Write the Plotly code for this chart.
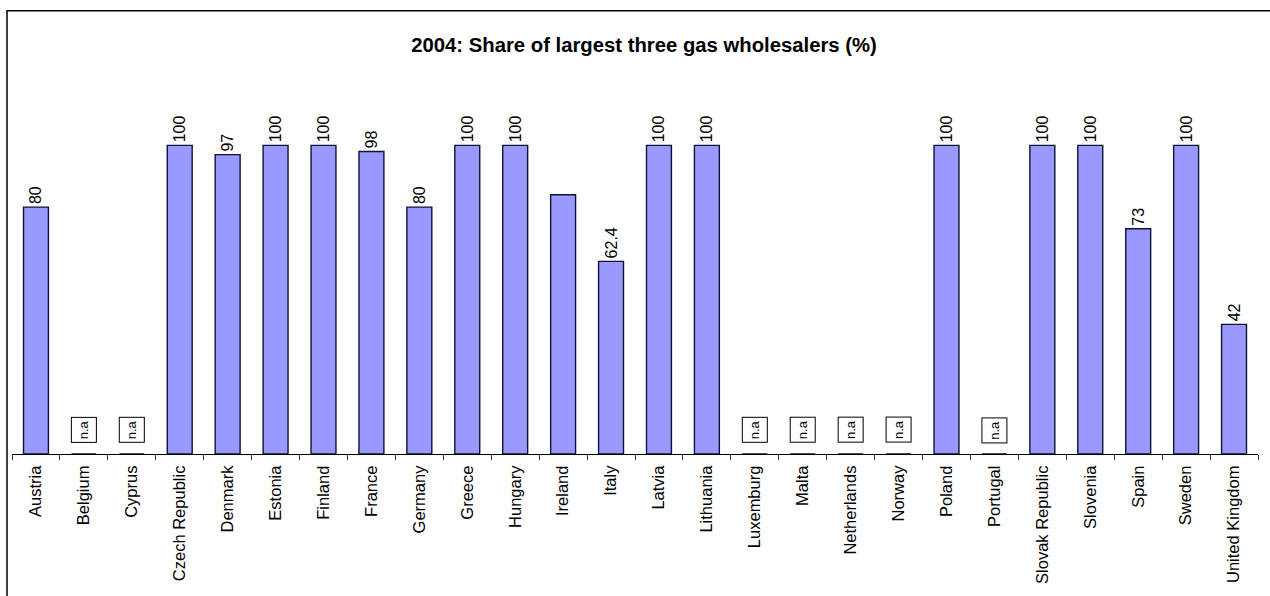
import plotly.graph_objects as go

countries = ["Austria", "Belgium", "Cyprus", "Czech Republic", "Denmark", "Estonia", "Finland",
             "France", "Germany", "Greece", "Hungary", "Ireland", "Italy", "Latvia", "Lithuania",
             "Luxemburg", "Malta", "Netherlands", "Norway", "Poland", "Portugal", "Slovak Republic",
             "Slovenia", "Spain", "Sweden", "United Kingdom"]
values = [80, None, None, 100, 97, 100, 100, 98, 80, 100, 100, 84, 62.4, 100, 100,
          None, None, None, None, 100, None, 100, 100, 73, 100, 42]
labels = ["80", "", "", "100", "97", "100", "100", "98", "80", "100", "100", "", "62.4", "100", "100",
          "", "", "", "", "100", "", "100", "100", "73", "100", "42"]

W, H = 1270, 596
left_px, right_px = 12, 1258
top_px, base_px = 60, 457
px100 = 146
yr = (base_px - top_px) / ((base_px - px100) / 100.0)

FONT = "Liberation Sans, Arial"

fig = go.Figure()
fig.add_trace(go.Bar(
    x=countries, y=[v if v is not None else 0 for v in values],
    text=labels, textposition="outside", textangle=-90,
    textfont=dict(family=FONT, size=16, color="black"),
    constraintext="none", cliponaxis=False,
    marker=dict(color="#9999FF", line=dict(color="#111133", width=1.4)),
    width=0.52,
))

for c, v in zip(countries, values):
    if v is None:
        fig.add_annotation(x=c, y=0, xref="x", yref="y", text="n.a", textangle=-90,
                           showarrow=False, yanchor="middle", yshift=24,
                           font=dict(family=FONT, size=13, color="black"),
                           bordercolor="black", borderwidth=1, bgcolor="white",
                           width=22, height=22, borderpad=1)

pw = right_px - left_px
ph = base_px - top_px
fig.add_shape(type="rect", xref="paper", yref="paper",
              x0=(7 - left_px) / pw, x1=(1290 - left_px) / pw,
              y0=(base_px - 620) / ph, y1=(base_px - 10.5) / ph,
              line=dict(color="black", width=1.5), fillcolor="rgba(0,0,0,0)", layer="below")

fig.update_layout(
    width=W, height=H,
    margin=dict(l=left_px, r=W - right_px, t=top_px, b=H - base_px, pad=0),
    plot_bgcolor="white", paper_bgcolor="white",
    showlegend=False,
    title=dict(text="<b>2004: Share of largest three gas wholesalers (%)</b>",
               x=644 / W, xanchor="center", y=1 - 45 / H, yanchor="middle",
               font=dict(family=FONT, size=20.3, color="black")),
    xaxis=dict(tickangle=-90, tickson="boundaries", ticks="outside", ticklen=5,
               tickcolor="#333333", showline=True, linecolor="black", linewidth=1,
               tickfont=dict(family=FONT, size=16.5, color="black"),
               ticklabelstandoff=4,
               showgrid=False, fixedrange=True),
    yaxis=dict(range=[0, yr], visible=False, showgrid=False, fixedrange=True),
    bargap=0.48,
)

fig.write_html("out.html")
